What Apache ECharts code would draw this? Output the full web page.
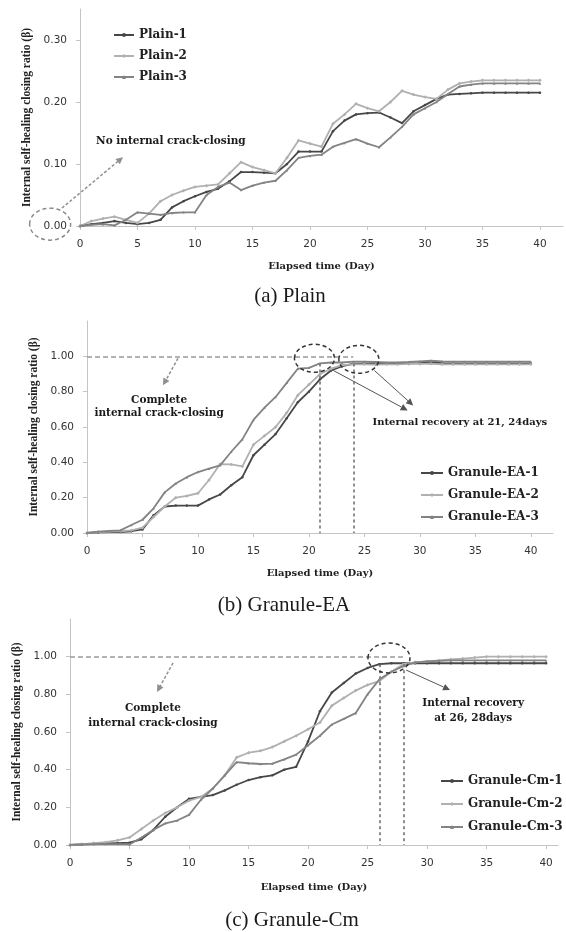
<!DOCTYPE html>
<html><head><meta charset="utf-8">
<script src="https://cdn.jsdelivr.net/npm/echarts@6/dist/echarts.min.js"></script>
<style>html,body{margin:0;padding:0;background:#fff}#c{width:566px;height:932px}</style>
</head><body><div id="c"></div>
<script>
// ---- data ----
const days = [0,1,2,3,4,5,6,7,8,9,10,11,12,13,14,15,16,17,18,19,20,21,22,23,24,25,26,27,28,29,30,31,32,33,34,35,36,37,38,39,40];
const xTickLabels = [0,5,10,15,20,25,30,35,40];
const yTicksA = [0,0.1,0.2,0.3];
const yTicksBC = [0,0.2,0.4,0.6,0.8,1.0];

const namesA = ['Plain-1','Plain-2','Plain-3'];
const plain1 = [0,0.003,0.005,0.008,0.005,0.003,0.005,0.01,0.03,0.04,0.048,0.055,0.06,0.072,0.087,0.087,0.086,0.085,0.1,0.12,0.12,0.12,0.153,0.17,0.18,0.182,0.183,0.175,0.166,0.185,0.195,0.205,0.212,0.213,0.214,0.215,0.215,0.215,0.215,0.215,0.215];
const plain2 = [0,0.008,0.012,0.015,0.01,0.005,0.02,0.04,0.05,0.057,0.063,0.065,0.067,0.085,0.103,0.095,0.09,0.085,0.11,0.138,0.133,0.128,0.165,0.18,0.197,0.19,0.185,0.2,0.218,0.212,0.208,0.205,0.22,0.23,0.233,0.235,0.235,0.235,0.235,0.235,0.235];
const plain3 = [0,0.002,0.003,0.001,0.01,0.022,0.02,0.018,0.021,0.022,0.022,0.05,0.063,0.07,0.058,0.065,0.07,0.073,0.09,0.11,0.113,0.115,0.128,0.134,0.14,0.133,0.127,0.143,0.16,0.18,0.19,0.2,0.213,0.225,0.228,0.23,0.23,0.23,0.23,0.23,0.23];

const namesB = ['Granule-EA-1','Granule-EA-2','Granule-EA-3'];
const ea1 = [0,0.003,0.005,0.005,0.01,0.02,0.1,0.15,0.155,0.155,0.155,0.19,0.218,0.27,0.316,0.44,0.5,0.56,0.65,0.74,0.8,0.87,0.92,0.945,0.958,0.96,0.96,0.958,0.958,0.96,0.962,0.965,0.962,0.96,0.96,0.96,0.96,0.96,0.96,0.96,0.96];
const ea2 = [0,0.005,0.008,0.01,0.015,0.03,0.09,0.15,0.2,0.21,0.225,0.3,0.39,0.388,0.377,0.5,0.55,0.6,0.68,0.78,0.84,0.9,0.93,0.95,0.955,0.955,0.953,0.955,0.955,0.957,0.957,0.958,0.955,0.955,0.955,0.955,0.955,0.955,0.955,0.955,0.955];
const ea3 = [0,0.008,0.012,0.015,0.045,0.075,0.14,0.23,0.28,0.316,0.345,0.364,0.383,0.46,0.53,0.64,0.71,0.77,0.85,0.93,0.935,0.96,0.965,0.965,0.97,0.97,0.968,0.965,0.965,0.968,0.972,0.975,0.972,0.97,0.97,0.97,0.97,0.97,0.97,0.97,0.97];

const namesC = ['Granule-Cm-1','Granule-Cm-2','Granule-Cm-3'];
const cm1 = [0,0.003,0.005,0.008,0.01,0.012,0.03,0.08,0.15,0.2,0.245,0.255,0.265,0.29,0.32,0.345,0.36,0.37,0.4,0.415,0.55,0.71,0.81,0.86,0.91,0.94,0.96,0.965,0.965,0.965,0.965,0.965,0.965,0.965,0.965,0.965,0.965,0.965,0.965,0.965,0.965];
const cm2 = [0,0.005,0.01,0.015,0.025,0.04,0.085,0.13,0.17,0.2,0.235,0.255,0.3,0.37,0.465,0.49,0.5,0.52,0.55,0.58,0.615,0.65,0.74,0.78,0.82,0.85,0.87,0.92,0.96,0.97,0.975,0.98,0.985,0.99,0.995,1.0,1.0,1.0,1.0,1.0,1.0];
const cm3 = [0,0.003,0.005,0.005,0.005,0.003,0.04,0.08,0.115,0.13,0.16,0.24,0.3,0.37,0.44,0.434,0.43,0.432,0.455,0.48,0.53,0.58,0.64,0.67,0.7,0.8,0.88,0.92,0.95,0.97,0.975,0.978,0.98,0.98,0.98,0.98,0.98,0.98,0.98,0.98,0.98];

const recoveryDaysB = [21, 24];
const recoveryDaysC = [26, 28];
const titles = ['(a) Plain', '(b) Granule-EA', '(c) Granule-Cm'];
const xName = 'Elapsed time (Day)';
const yName = 'Internal self-healing closing ratio (\u03b2)';

// ---- styling ----
const lineStyles = [
  {color:'#474747', symbol:'circle', size:2.5},
  {color:'#b0b0b0', symbol:'diamond', size:3.5},
  {color:'#838383', symbol:'triangle', size:2.5}
];
const AX = '#c4c4c4';
const serifB = '"DejaVu Serif"';

function pairs(arr){ return days.map((d,i)=>[d, arr[i]]); }

function mkSeries(names, arrs, gi, markLineData){
  return arrs.map((a,k)=>{
    const s = {
      name: names[k], type:'line', xAxisIndex:gi, yAxisIndex:gi,
      data: pairs(a), symbol: lineStyles[k].symbol, symbolSize: lineStyles[k].size,
      showSymbol:true, animation:false,
      lineStyle:{color:lineStyles[k].color, width:1.8},
      itemStyle:{color:lineStyles[k].color},
      z: 3 + k
    };
    if (k===0 && markLineData){
      s.markLine = {silent:true, symbol:['none','none'], label:{show:false}, animation:false,
        data: markLineData};
    }
    return s;
  });
}

function mkX(gi, max, gap){
  return {type:'value', gridIndex:gi, min:0, max:max, interval:5,
    name:xName, nameLocation:'middle', nameGap:gap,
    nameTextStyle:{fontFamily:serifB, fontWeight:'bold', fontSize:10, color:'#222'},
    axisLine:{show:true, lineStyle:{color:AX, width:1}},
    axisTick:{show:true, length:4, lineStyle:{color:AX}, customValues:xTickLabels},
    axisLabel:{customValues:xTickLabels, margin:13, fontFamily:'DejaVu Sans', fontSize:10.5, color:'#333'},
    splitLine:{show:false}};
}
function mkY(gi, max, interval, ticks, gap){
  return {type:'value', gridIndex:gi, min:0, max:max, interval:interval,
    name:yName, nameLocation:'middle', nameGap:gap, nameRotate:90,
    nameTextStyle:{fontFamily:'"Liberation Serif"', fontWeight:'bold', fontSize:11.5, color:'#222'},
    axisLine:{show:true, lineStyle:{color:AX, width:1}},
    axisTick:{show:true, length:4, lineStyle:{color:AX}, customValues:ticks},
    axisLabel:{customValues:ticks, margin:13, fontFamily:'DejaVu Sans', fontSize:10.5, color:'#333',
      formatter:(v)=>v.toFixed(2)},
    splitLine:{show:false}};
}
function mkLegend(names, left, top, gap, w){
  return {data:names, orient:'vertical', left:left, top:top, itemWidth:w, itemHeight:5, itemGap:gap,
    textStyle:{fontFamily:serifB, fontWeight:'bold', fontSize:12, color:'#222'}, selectedMode:false};
}

const refH = {lineStyle:{type:[5,3], color:'#9a9a9a', width:1.5}};
const refV = {lineStyle:{type:[3,3], color:'#6a6a6a', width:1.5}};
const mlB = [
  [{coord:[0,1], ...refH},{coord:[recoveryDaysB[1],1]}],
  [{coord:[recoveryDaysB[0],0.96], ...refV},{coord:[recoveryDaysB[0],0]}],
  [{coord:[recoveryDaysB[1],0.96], ...refV},{coord:[recoveryDaysB[1],0]}]
];
const mlC = [
  [{coord:[0,1], ...refH},{coord:[recoveryDaysC[1],1]}],
  [{coord:[recoveryDaysC[0],0.96], ...refV},{coord:[recoveryDaysC[0],0]}],
  [{coord:[recoveryDaysC[1],0.96], ...refV},{coord:[recoveryDaysC[1],0]}]
];

const chart = echarts.init(document.getElementById('c'), null, {renderer:'canvas', width:566, height:932});
const option = {
  backgroundColor:'#fff',
  animation:false,
  grid:[
    {left:80, top:9, width:483, height:217},
    {left:87, top:321, width:466, height:212},
    {left:70, top:619, width:488, height:226}
  ],
  xAxis:[ mkX(0,42,35), mkX(1,42,35), mkX(2,41,37) ],
  yAxis:[ mkY(0,0.35,0.1,yTicksA,47), mkY(1,1.2,0.2,yTicksBC,47), mkY(2,1.2,0.2,yTicksBC,47) ],
  legend:[
    mkLegend(namesA,108,24,9,20),
    mkLegend(namesB,415,462,10,22),
    mkLegend(namesC,435,770,11,22)
  ],
  series:[].concat(
    mkSeries(namesA,[plain1,plain2,plain3],0,null),
    mkSeries(namesB,[ea1,ea2,ea3],1,mlB),
    mkSeries(namesC,[cm1,cm2,cm3],2,mlC)
  )
};
chart.setOption(option);

// ---- annotations anchored in data coordinates ----
function px(g,x,y){ return chart.convertToPixel({gridIndex:g},[x,y]); }
function arrow(p1,p2,color,dash,w){
  const ang = Math.atan2(p2[1]-p1[1], p2[0]-p1[0]);
  const L=7, W=3.5;
  const bx = p2[0]-L*Math.cos(ang), by = p2[1]-L*Math.sin(ang);
  const l = [bx + W*Math.sin(ang), by - W*Math.cos(ang)];
  const r = [bx - W*Math.sin(ang), by + W*Math.cos(ang)];
  return [
    {type:'line', silent:true, z:10, shape:{x1:p1[0],y1:p1[1],x2:bx,y2:by}, style:{stroke:color, lineWidth:w, lineDash:dash}},
    {type:'polygon', silent:true, z:10, shape:{points:[p2,l,r]}, style:{fill:color}}
  ];
}
function ell(p,rx,ry,color){
  return {type:'ellipse', silent:true, z:10, shape:{cx:p[0],cy:p[1],rx:rx,ry:ry},
    style:{fill:null, stroke:color, lineWidth:1.5, lineDash:[4,3]}};
}
function txt(p,text,size,font,weight){
  return {type:'text', silent:true, z:10, x:p[0], y:p[1],
    style:{text:text, font:(weight||'bold')+' '+size+'px '+(font||serifB), fill:'#1a1a1a',
      align:'center', verticalAlign:'middle', textAlign:'center', textVerticalAlign:'middle'}};
}
const G = [];
// panel a
G.push(ell(px(0,-2.6,0.003),20.5,16,'#8a8a8a'));
G.push(...arrow(px(0,-1.57,0.029), px(0,3.74,0.111), '#8f8f8f', [3,2], 1.5));
G.push(txt(px(0,7.9,0.137),'No internal crack-closing',10.5));
// panel b
G.push(ell(px(1,20.5,0.989),20,14,'#333'));
G.push(ell(px(1,24.5,0.983),20,14,'#333'));
G.push(...arrow(px(1,22.2,0.92), px(1,28.9,0.694), '#555', null, 1));
G.push(...arrow(px(1,25.9,0.92), px(1,29.4,0.722), '#555', null, 1));
G.push(txt(px(1,33.6,0.626),'Internal recovery at 21, 24days',10));
G.push(...arrow(px(1,8.2,0.989), px(1,6.85,0.836), '#8f8f8f', [3,2], 1.5));
G.push(txt(px(1,6.5,0.75),'Complete',10.5));
G.push(txt(px(1,6.5,0.677),'internal crack-closing',10.5));
// panel c
G.push(ell(px(2,26.8,0.993),21,15,'#333'));
G.push(...arrow(px(2,28.24,0.929), px(2,31.93,0.823), '#555', null, 1));
G.push(txt(px(2,33.87,0.754),'Internal recovery',10.5));
G.push(txt(px(2,33.87,0.674),'at 26, 28days',10.5));
G.push(...arrow(px(2,8.66,0.967), px(2,7.31,0.813), '#8f8f8f', [3,2], 1.5));
G.push(txt(px(2,6.97,0.728),'Complete',10.5));
G.push(txt(px(2,6.97,0.648),'internal crack-closing',10.5));
// panel titles
G.push(txt([290,296],titles[0],21,'"Liberation Serif"','normal'));
G.push(txt([284,605],titles[1],21,'"Liberation Serif"','normal'));
G.push(txt([292,920],titles[2],21,'"Liberation Serif"','normal'));
chart.setOption({graphic:{elements:G}});
</script></body></html>
